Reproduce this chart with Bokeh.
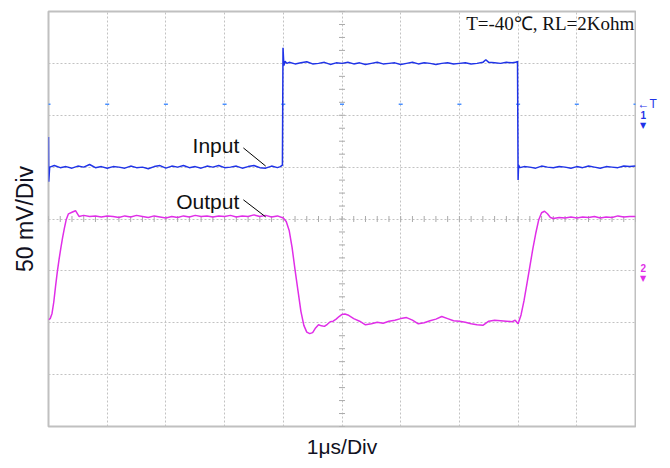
import numpy as np
from bokeh.plotting import figure
from bokeh.layouts import row
from bokeh.models import Label, Range1d, SingleIntervalTicker, FixedTicker
from bokeh.embed import file_html
from bokeh.resources import INLINE

# ---- data (x in divisions of 1 us, y in divisions of 50 mV) ----
in_t = [0.000, 0.004, 0.020, 0.100, 0.200, 0.300, 0.400, 0.500, 0.600, 0.700, 0.800, 0.900,
        1.000, 1.100, 1.200, 1.300, 1.400, 1.500, 1.600, 1.700, 1.800, 1.900,
        2.000, 2.100, 2.200, 2.300, 2.400, 2.500, 2.600, 2.700, 2.800, 2.900,
        3.000, 3.100, 3.200, 3.300, 3.400, 3.500, 3.600, 3.700, 3.800, 3.900, 3.950, 3.985,
        3.995, 4.010, 4.030, 4.060, 4.100, 4.200, 4.300, 4.400, 4.500, 4.600, 4.700, 4.800, 4.900,
        5.000, 5.100, 5.200, 5.300, 5.400, 5.500, 5.600, 5.700, 5.800, 5.900,
        6.000, 6.100, 6.200, 6.300, 6.400, 6.500, 6.600, 6.700, 6.800, 6.900,
        7.000, 7.100, 7.200, 7.300, 7.400, 7.450, 7.500, 7.600, 7.700, 7.800, 7.900, 7.960, 7.990,
        8.000, 8.008, 8.030, 8.100, 8.200, 8.300, 8.400, 8.500, 8.600, 8.700, 8.800, 8.900,
        9.000, 9.100, 9.200, 9.300, 9.400, 9.500, 9.600, 9.700, 9.800, 9.900, 10.000]
in_v = [1.58, 0.72, 1.00, 1.03, 0.99, 1.01, 0.98, 1.02, 1.00, 1.05, 0.99, 1.01,
        0.98, 1.01, 1.00, 0.98, 1.02, 0.99, 1.00, 0.97, 1.01, 1.03,
        0.98, 1.02, 1.00, 1.03, 0.99, 1.01, 0.98, 1.02, 1.00, 1.03,
        0.99, 1.00, 1.02, 0.98, 1.01, 1.03, 0.99, 0.98, 1.02, 0.99, 1.01, 1.04,
        3.30, 2.96, 3.04, 3.00, 3.02, 2.99, 3.01, 3.03, 2.99, 3.00, 3.02, 2.98, 3.01,
        3.00, 3.02, 2.99, 3.01, 2.98, 3.00, 3.02, 2.99, 3.00, 3.01,
        2.98, 3.00, 3.02, 2.99, 3.01, 3.00, 2.98, 3.00, 3.01, 2.99,
        3.00, 3.01, 2.99, 3.00, 3.02, 3.07, 3.02, 3.01, 3.00, 3.02, 3.01, 3.02, 3.04,
        0.75, 1.04, 0.99, 1.01, 1.00, 0.98, 1.02, 1.00, 0.99, 1.01, 1.00, 0.98,
        1.01, 0.99, 1.02, 1.00, 0.98, 1.01, 1.00, 0.99, 1.02, 1.01, 1.02]

out_t = [0.000, 0.030, 0.060, 0.090, 0.120, 0.150, 0.180, 0.210, 0.240, 0.270, 0.300, 0.340,
         0.400, 0.460, 0.520, 0.600, 0.700, 0.800, 0.900,
         1.000, 1.100, 1.200, 1.300, 1.400, 1.500, 1.600, 1.700, 1.800, 1.900,
         2.000, 2.100, 2.200, 2.300, 2.400, 2.500, 2.600, 2.700, 2.800, 2.900,
         3.000, 3.100, 3.200, 3.300, 3.400, 3.500, 3.600, 3.700, 3.800, 3.900, 4.000, 4.050,
         4.100, 4.150, 4.200, 4.250, 4.300, 4.350, 4.400, 4.450, 4.500, 4.550, 4.600, 4.650,
         4.700, 4.750, 4.800, 4.850, 4.900, 4.950,
         5.000, 5.050, 5.100, 5.200, 5.300, 5.400, 5.500, 5.600, 5.700, 5.800, 5.900,
         6.000, 6.100, 6.200, 6.300, 6.400, 6.500, 6.600, 6.700, 6.800, 6.900,
         7.000, 7.100, 7.200, 7.300, 7.400, 7.500, 7.600, 7.700, 7.800, 7.900, 7.950, 8.000,
         8.050, 8.100, 8.150, 8.200, 8.250, 8.300, 8.350, 8.400, 8.450, 8.500, 8.550, 8.600,
         8.700, 8.800, 8.900,
         9.000, 9.100, 9.200, 9.300, 9.400, 9.500, 9.600, 9.700, 9.800, 9.900, 10.000]
out_v = [-1.94, -1.92, -1.82, -1.60, -1.30, -1.02, -0.78, -0.56, -0.36, -0.18, -0.02, 0.10,
         0.13, 0.16, 0.05, 0.07, 0.05, 0.06, 0.04,
         0.06, 0.05, 0.03, 0.06, 0.04, 0.07, 0.05, 0.03, 0.06, 0.04,
         0.02, 0.05, 0.03, 0.06, 0.04, 0.07, 0.05, 0.06, 0.04, 0.06,
         0.05, 0.07, 0.04, 0.06, 0.05, 0.08, 0.05, 0.07, 0.04, 0.06, 0.02, -0.05,
         -0.22, -0.55, -0.98, -1.38, -1.78, -2.05, -2.18, -2.21, -2.19, -2.10, -2.04, -2.06,
         -2.07, -2.03, -1.98, -1.97, -1.93, -1.88,
         -1.84, -1.83, -1.85, -1.92, -1.97, -2.04, -2.02, -1.99, -2.01, -1.97, -1.95,
         -1.92, -1.90, -1.95, -2.02, -2.00, -1.96, -1.93, -1.88, -1.92, -1.96,
         -1.97, -1.99, -2.02, -2.04, -2.05, -1.97, -1.95, -1.96, -1.97, -1.98, -1.95, -2.02,
         -1.85, -1.58, -1.25, -0.92, -0.58, -0.28, -0.02, 0.12, 0.15, 0.10, 0.03, 0.01,
         0.03, 0.02, 0.04,
         0.02, 0.04, 0.03, 0.05, 0.02, 0.04, 0.03, 0.06, 0.04, 0.05, 0.05]

trigger_level = 2.21
ch1_marker_level = 1.95
ch2_marker_level = -1.0
x_divs = list(range(0, 11))

label_texts = ["Input", "Output"]
label_x = [3.25, 3.25]
label_y = [1.42, 0.33]
leader_x0 = [3.32, 3.32]
leader_y0 = [1.37, 0.37]
leader_x1 = [3.70, 3.70]
leader_y1 = [1.02, 0.04]

title_text = "T=-40\u2103, RL=2Kohm"
x_title = "1\u03bcs/Div"
y_title = "50 mV/Div"

BLUE = "#1f33e8"
MAGENTA = "#e02ee8"
GRID = "#c2c2c2"
TXT = "#111122"

H = 460
yr = Range1d(-4, 4)
p = figure(width=636, height=H, output_backend="svg", toolbar_location=None,
           x_range=Range1d(0, 10), y_range=yr,
           min_border_left=48, min_border_right=1, min_border_top=11, min_border_bottom=33)

for ax in (p.xaxis, p.yaxis):
    ax.ticker = FixedTicker(ticks=[])
    ax.major_tick_line_color = None
    ax.minor_tick_line_color = None
    ax.major_tick_out = 0
    ax.major_tick_in = 0
    ax.minor_tick_out = 0
    ax.minor_tick_in = 0
    ax.axis_line_color = None
    ax.major_label_standoff = 0
    ax.axis_label_text_font = "Liberation Sans"
    ax.axis_label_text_font_style = "normal"
    ax.axis_label_text_color = TXT
p.xaxis.axis_label = x_title
p.xaxis.axis_label_text_font_size = "21px"
p.xaxis.axis_label_standoff = 8
p.yaxis.axis_label = y_title
p.yaxis.axis_label_text_font_size = "23px"
p.yaxis.axis_label_standoff = 11

p.xgrid.ticker = SingleIntervalTicker(interval=1)
p.ygrid.ticker = SingleIntervalTicker(interval=1)
for g in (p.xgrid, p.ygrid):
    g.grid_line_color = GRID
    g.grid_line_dash = "2 2"
    g.grid_line_width = 1
p.outline_line_color = "#c0c0c0"
p.outline_line_width = 2
p.background_fill_color = "white"
p.border_fill_color = "white"

# centre-line minor ticks
hx = np.arange(0, 10.001, 0.2)
p.dash(x=hx, y=np.zeros_like(hx), size=6, angle=np.pi / 2, line_color="#aaaaaa", line_width=1)
vy = np.arange(-4, 4.001, 0.25)
p.dash(x=np.full_like(vy, 5.0), y=vy, size=6, line_color="#aaaaaa", line_width=1)

# trigger level marks
p.dash(x=x_divs, y=[trigger_level] * len(x_divs), size=4, line_color="#4a90ff", line_width=1.5)

# traces
p.line(in_t, in_v, line_color=BLUE, line_width=1.5)
p.line(out_t, out_v, line_color=MAGENTA, line_width=1.5)

# leaders
p.segment(x0=leader_x0, y0=leader_y0, x1=leader_x1, y1=leader_y1, line_color="black", line_width=1)

for t, lx, ly in zip(label_texts, label_x, label_y):
    p.add_layout(Label(x=lx, y=ly, text=t, text_align="right", text_baseline="middle",
                       text_font="Liberation Sans", text_font_size="21px", text_color="#111111"))

p.add_layout(Label(x=9.98, y=3.77, text=title_text, text_align="right", text_baseline="middle",
                   text_font="Liberation Serif", text_font_size="19px", text_color="#111111"))

# narrow strip to the right of the screen for the channel / trigger markers
q = figure(width=26, height=H, output_backend="svg", toolbar_location=None,
           x_range=Range1d(0, 26), y_range=yr,
           min_border_left=0, min_border_right=0, min_border_top=11, min_border_bottom=33)
q.axis.visible = False
q.grid.visible = False
q.outline_line_color = None
q.background_fill_color = "white"
q.border_fill_color = "white"
q.add_layout(Label(x=1, y=trigger_level, text="\u2190T", text_align="left", text_baseline="middle",
                   text_font="Liberation Sans", text_font_size="12px", text_color=BLUE))
q.add_layout(Label(x=4, y=ch1_marker_level + 0.05, text="1", text_align="left", text_baseline="middle",
                   text_font="Liberation Sans", text_font_size="10px", text_font_style="bold",
                   text_color=BLUE))
q.add_layout(Label(x=3.5, y=ch1_marker_level - 0.15, text="\u25bc", text_align="left",
                   text_baseline="middle", text_font="DejaVu Sans", text_font_size="8px",
                   text_color=BLUE))
q.add_layout(Label(x=4, y=ch2_marker_level + 0.05, text="2", text_align="left", text_baseline="middle",
                   text_font="Liberation Sans", text_font_size="10px", text_font_style="bold",
                   text_color=MAGENTA))
q.add_layout(Label(x=3.5, y=ch2_marker_level - 0.15, text="\u25bc", text_align="left",
                   text_baseline="middle", text_font="DejaVu Sans", text_font_size="8px",
                   text_color=MAGENTA))

layout = row(p, q, spacing=0)
open("out.html", "w").write(file_html(layout, INLINE))
